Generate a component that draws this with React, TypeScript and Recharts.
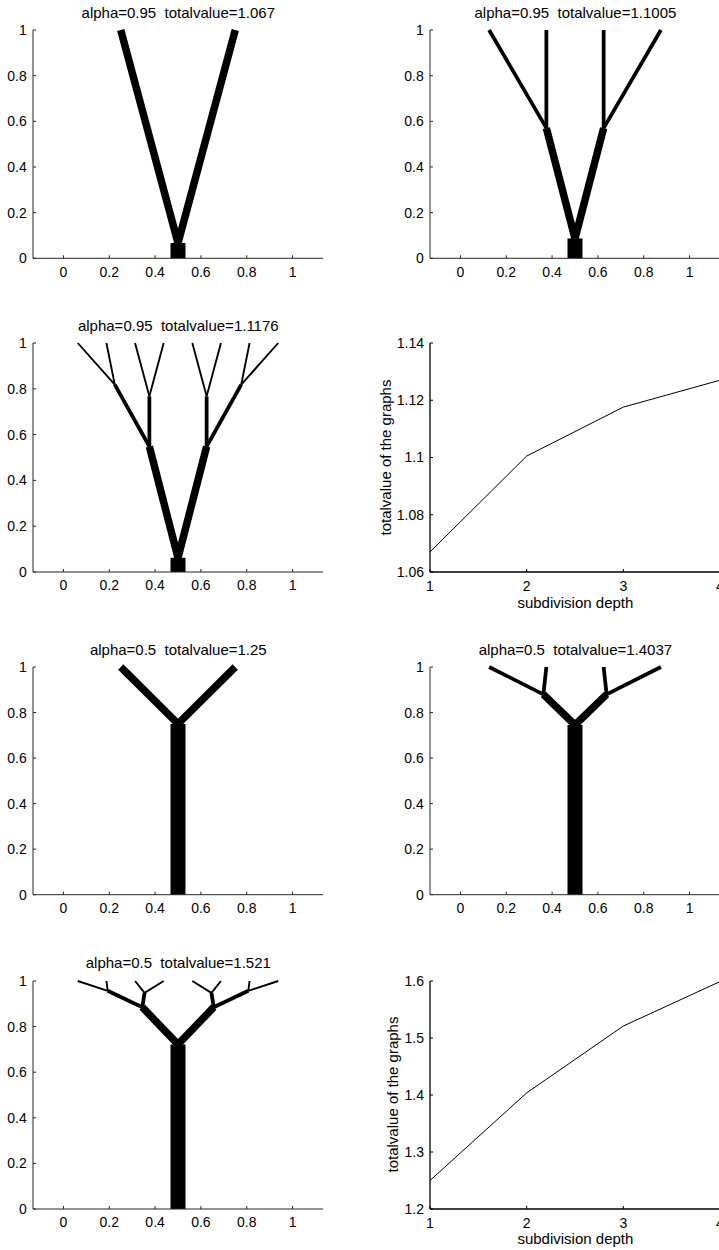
import React from 'react';
import { LineChart, Line, XAxis, YAxis } from 'recharts';

// Tree segments: [x1, y1, x2, y2, mass]
const tree095d1: number[][] = [
  [0.5, 0, 0.5, 0.067, 1],
  [0.5, 0.067, 0.25, 1, 0.5],
  [0.5, 0.067, 0.75, 1, 0.5],
];
const tree095d2: number[][] = [
  [0.5, 0, 0.5, 0.087, 1],
  [0.5, 0.087, 0.375, 0.57, 0.5],
  [0.5, 0.087, 0.625, 0.57, 0.5],
  [0.375, 0.57, 0.125, 1, 0.25],
  [0.375, 0.57, 0.375, 1, 0.25],
  [0.625, 0.57, 0.625, 1, 0.25],
  [0.625, 0.57, 0.875, 1, 0.25],
];
const tree095d3: number[][] = [
  [0.5, 0, 0.5, 0.062, 1],
  [0.5, 0.062, 0.375, 0.548, 0.5],
  [0.5, 0.062, 0.625, 0.548, 0.5],
  [0.375, 0.548, 0.224, 0.818, 0.25],
  [0.375, 0.548, 0.375, 0.767, 0.25],
  [0.625, 0.548, 0.625, 0.767, 0.25],
  [0.625, 0.548, 0.776, 0.818, 0.25],
  [0.224, 0.818, 0.0625, 1, 0.125],
  [0.224, 0.818, 0.1875, 1, 0.125],
  [0.375, 0.767, 0.3125, 1, 0.125],
  [0.375, 0.767, 0.4375, 1, 0.125],
  [0.625, 0.767, 0.5625, 1, 0.125],
  [0.625, 0.767, 0.6875, 1, 0.125],
  [0.776, 0.818, 0.8125, 1, 0.125],
  [0.776, 0.818, 0.9375, 1, 0.125],
];
const tree05d1: number[][] = [
  [0.5, 0, 0.5, 0.75, 1],
  [0.5, 0.75, 0.25, 1, 0.5],
  [0.5, 0.75, 0.75, 1, 0.5],
];
const tree05d2: number[][] = [
  [0.5, 0, 0.5, 0.745, 1],
  [0.5, 0.745, 0.362, 0.88, 0.5],
  [0.5, 0.745, 0.638, 0.88, 0.5],
  [0.362, 0.88, 0.125, 1, 0.25],
  [0.362, 0.88, 0.375, 1, 0.25],
  [0.638, 0.88, 0.625, 1, 0.25],
  [0.638, 0.88, 0.875, 1, 0.25],
];
const tree05d3: number[][] = [
  [0.5, 0, 0.5, 0.722, 1],
  [0.5, 0.722, 0.344, 0.885, 0.5],
  [0.5, 0.722, 0.656, 0.885, 0.5],
  [0.344, 0.885, 0.193, 0.957, 0.25],
  [0.344, 0.885, 0.354, 0.948, 0.25],
  [0.656, 0.885, 0.646, 0.948, 0.25],
  [0.656, 0.885, 0.807, 0.957, 0.25],
  [0.193, 0.957, 0.0625, 1, 0.125],
  [0.193, 0.957, 0.1875, 1, 0.125],
  [0.354, 0.948, 0.3125, 1, 0.125],
  [0.354, 0.948, 0.4375, 1, 0.125],
  [0.646, 0.948, 0.5625, 1, 0.125],
  [0.646, 0.948, 0.6875, 1, 0.125],
  [0.807, 0.957, 0.8125, 1, 0.125],
  [0.807, 0.957, 0.9375, 1, 0.125],
];

const treeXTicks = [0, 0.2, 0.4, 0.6, 0.8, 1];
const treeYTicks = [0, 0.2, 0.4, 0.6, 0.8, 1];
const treeXDomain = [-0.133, 1.133];

const depths = [1, 2, 3, 4];
const totals095 = [1.067, 1.1005, 1.1176, 1.127];
const totals05 = [1.25, 1.4037, 1.521, 1.599];
const yTicks095 = [1.06, 1.08, 1.1, 1.12, 1.14];
const yTicks05 = [1.2, 1.3, 1.4, 1.5, 1.6];

const PW = 290;
const PAD_L = 60;
const PAD_T = 40;
const PAD_R = 40;
const PAD_B = 50;
const LW = 15;
const FONT = "'Liberation Sans', Arial, Helvetica, sans-serif";

const tickStyle = { fill: '#000', fontSize: 14 };

function Title({ px, py, text }: { px: number; py: number; text: string }) {
  return (
    <div
      style={{
        position: 'absolute',
        left: px,
        top: py - 25.5,
        width: PW,
        textAlign: 'center',
        fontSize: 15,
        lineHeight: '15px',
        whiteSpace: 'pre',
        color: '#000',
      }}
    >
      {text}
    </div>
  );
}

function TreePanel({ px, py, ph, segs, title }: { px: number; py: number; ph: number; segs: number[][]; title: string }) {
  const W = PW + PAD_L + PAD_R;
  const H = ph + PAD_T + PAD_B;
  return (
    <>
      <div style={{ position: 'absolute', left: px - PAD_L, top: py - PAD_T, width: W, height: H }}>
        <LineChart width={W} height={H} margin={{ top: PAD_T, right: PAD_R, bottom: 0, left: 0 }}>
          <XAxis
            type="number"
            dataKey="x"
            domain={treeXDomain}
            ticks={treeXTicks}
            interval={0}
            height={PAD_B}
            tickSize={-3}
            tickMargin={11.5}
            stroke="#262626"
            tick={tickStyle}
          />
          <YAxis
            type="number"
            dataKey="y"
            domain={[0, 1]}
            ticks={treeYTicks}
            interval={0}
            width={PAD_L}
            tickSize={-3}
            tickMargin={9.3}
            stroke="#262626"
            tick={tickStyle}
          />
          {segs.map((s, i) => (
            <Line
              key={i}
              data={[
                { x: s[0], y: s[1] },
                { x: s[2], y: s[3] },
              ]}
              dataKey="y"
              type="linear"
              stroke="#000"
              strokeWidth={LW * s[4]}
              strokeLinecap="butt"
              dot={false}
              activeDot={false}
              isAnimationActive={false}
            />
          ))}
        </LineChart>
      </div>
      <Title px={px} py={py} text={title} />
    </>
  );
}

function DepthPanel({
  px,
  py,
  ph,
  values,
  yTicks,
  ylabelX,
}: {
  px: number;
  py: number;
  ph: number;
  values: number[];
  yTicks: number[];
  ylabelX: number;
}) {
  const W = PW + PAD_L + PAD_R;
  const H = ph + PAD_T + PAD_B;
  const data = depths.map((d, i) => ({ x: d, y: values[i] }));
  const yDomain = [yTicks[0], yTicks[yTicks.length - 1]];
  const axisLine = { strokeWidth: 1.3 };
  return (
    <>
      <div style={{ position: 'absolute', left: px - PAD_L, top: py - PAD_T, width: W, height: H }}>
        <LineChart width={W} height={H} data={data} margin={{ top: PAD_T, right: PAD_R, bottom: 0, left: 0 }}>
          <XAxis
            xAxisId="b"
            type="number"
            dataKey="x"
            domain={[1, 4]}
            ticks={depths}
            interval={0}
            height={PAD_B}
            tickSize={-3}
            tickMargin={12}
            stroke="#000"
            axisLine={axisLine}
            tick={tickStyle}
          />
          <XAxis
            xAxisId="t"
            orientation="top"
            type="number"
            dataKey="x"
            domain={[1, 4]}
            ticks={depths}
            interval={0}
            height={0}
            tickSize={-3}
            stroke="#000"
            axisLine={axisLine}
            tick={false}
          />
          <YAxis
            yAxisId="l"
            type="number"
            dataKey="y"
            domain={yDomain}
            ticks={yTicks}
            interval={0}
            width={PAD_L}
            tickSize={-3}
            tickMargin={9}
            stroke="#000"
            axisLine={axisLine}
            tick={tickStyle}
          />
          <YAxis
            yAxisId="r"
            orientation="right"
            type="number"
            dataKey="y"
            domain={yDomain}
            ticks={yTicks}
            interval={0}
            width={0}
            tickSize={-3}
            stroke="#000"
            axisLine={axisLine}
            tick={false}
          />
          <Line
            xAxisId="b"
            yAxisId="l"
            dataKey="y"
            type="linear"
            stroke="#000"
            strokeWidth={1}
            dot={false}
            activeDot={false}
            isAnimationActive={false}
          />
        </LineChart>
      </div>
      <div
        style={{
          position: 'absolute',
          left: px,
          top: py + ph + 35 - 12.7,
          width: PW,
          textAlign: 'center',
          fontSize: 15,
          lineHeight: '15px',
          color: '#000',
        }}
      >
        subdivision depth
      </div>
      <div
        style={{
          position: 'absolute',
          left: ylabelX - 5.2 - 120,
          top: py + ph / 2 - 7.5,
          width: 240,
          textAlign: 'center',
          fontSize: 15,
          lineHeight: '15px',
          color: '#000',
          transform: 'rotate(-90deg)',
          transformOrigin: '50% 50%',
        }}
      >
        totalvalue of the graphs
      </div>
    </>
  );
}

export default function App() {
  const L = 33.3;
  const R = 430.4;
  return (
    <div
      style={{
        position: 'absolute',
        left: 0,
        top: 0,
        width: 719,
        height: 1250,
        overflow: 'hidden',
        background: '#fff',
        fontFamily: FONT,
      }}
    >
      <TreePanel px={L} py={30} ph={228.3} segs={tree095d1} title="alpha=0.95  totalvalue=1.067" />
      <TreePanel px={R} py={30} ph={228.3} segs={tree095d2} title="alpha=0.95  totalvalue=1.1005" />
      <TreePanel px={L} py={343.3} ph={229} segs={tree095d3} title="alpha=0.95  totalvalue=1.1176" />
      <DepthPanel px={R} py={343.3} ph={229} values={totals095} yTicks={yTicks095} ylabelX={390} />
      <TreePanel px={L} py={667.3} ph={227.7} segs={tree05d1} title="alpha=0.5  totalvalue=1.25" />
      <TreePanel px={R} py={667.3} ph={227.7} segs={tree05d2} title="alpha=0.5  totalvalue=1.4037" />
      <TreePanel px={L} py={980.7} ph={228} segs={tree05d3} title="alpha=0.5  totalvalue=1.521" />
      <DepthPanel px={R} py={980.7} ph={228} values={totals05} yTicks={yTicks05} ylabelX={397} />
    </div>
  );
}
